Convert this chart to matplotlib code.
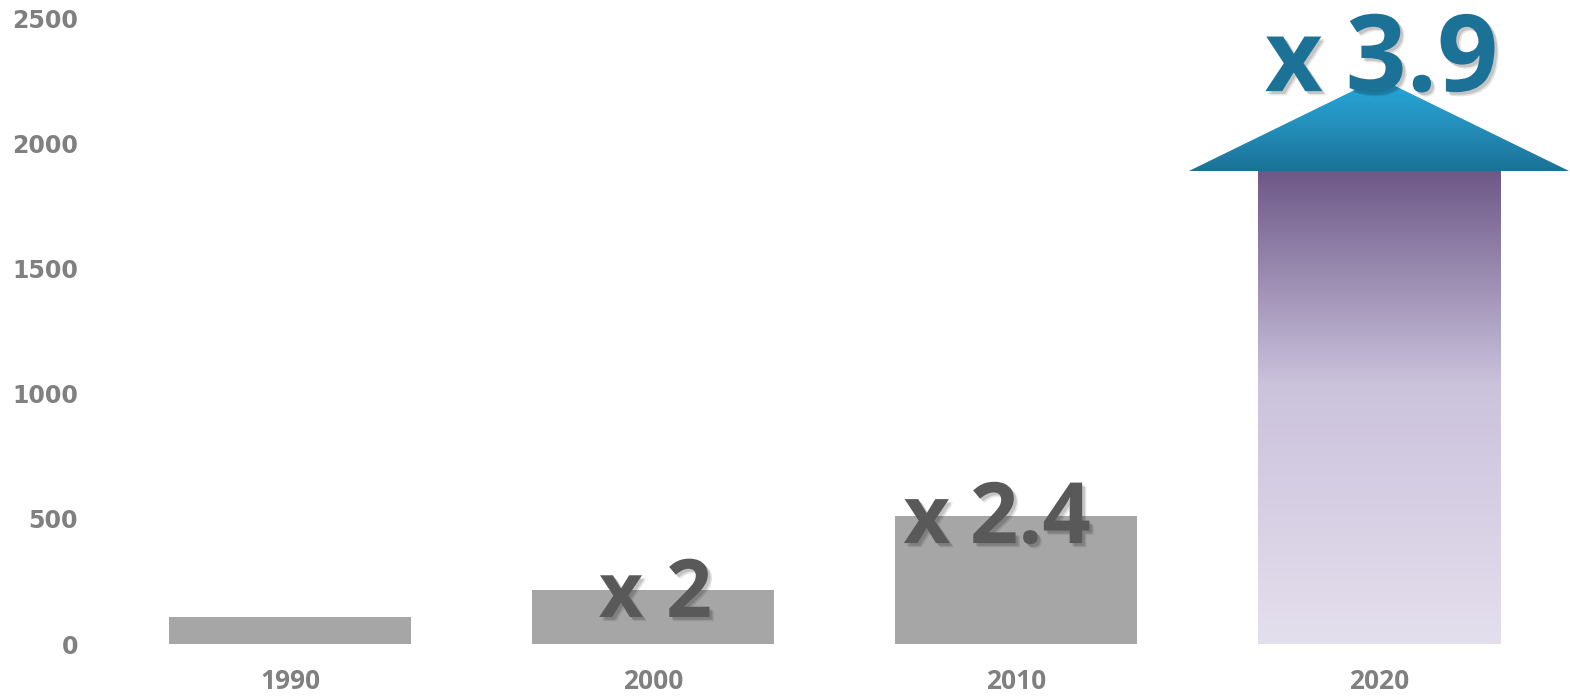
import numpy as np
import matplotlib.pyplot as plt
import matplotlib.patheffects as pe
from matplotlib.colors import LinearSegmentedColormap
from matplotlib.patches import Polygon

years = ['1990', '2000', '2010', '2020']
values = [108, 215, 511, 1888]
ratio_numbers = ['', '2', '2.4', '3.9']
arrow_tip = 2260

gray = '#a6a6a6'
label_gray = '#808080'
dark_gray = '#595959'
teal = '#1b7196'

fig = plt.figure(figsize=(15.7, 6.99), dpi=100)
ax = fig.add_axes([108.5 / 1570, 55 / 699, 1452 / 1570, 626 / 699])

x = np.arange(len(years))
width = 0.667

# gray bars for the first three years
ax.bar(x[:3], values[:3], width=width, color=gray, zorder=2)

# 2020 gradient bar
bar_cmap = LinearSegmentedColormap.from_list(
    'bar', [(0, '#e4dfed'), (0.55, '#cbc2dc'), (0.8, '#9687ad'), (1, '#6e5888')])
grad = np.linspace(0, 1, 256).reshape(-1, 1)
x0, x1 = x[3] - width / 2, x[3] + width / 2
ax.imshow(grad, extent=[x0, x1, 0, values[3]], origin='lower', aspect='auto',
          cmap=bar_cmap, zorder=2, interpolation='bilinear')

# arrow head on top
half = 0.525
tri = Polygon([[x[3] - half, values[3]], [x[3] + half, values[3]], [x[3], arrow_tip]],
              closed=True, facecolor='none', edgecolor='none', transform=ax.transData)
ax.add_patch(tri)
tri_cmap = LinearSegmentedColormap.from_list('tri', ['#1b7196', '#2590bd', '#26a9dc'])
im = ax.imshow(grad, extent=[x[3] - half, x[3] + half, values[3], arrow_tip],
               origin='lower', aspect='auto', cmap=tri_cmap, zorder=3,
               interpolation='bilinear')
im.set_clip_path(tri)
im.set_clip_box(fig.bbox)

# ratio labels: "x" and the number drawn apart to keep the narrow gap
shadow = [pe.SimplePatchShadow(offset=(3, -3), shadow_rgbFace='#000000', alpha=0.10),
          pe.SimplePatchShadow(offset=(2, -2), shadow_rgbFace='#000000', alpha=0.14),
          pe.Normal()]
x_right = [None, 0.9725, 1.818, 2.845]
num_left = [None, 1.036, 1.873, 2.908]
baselines = [None, 108, 403, 2208]
sizes = [None, 58, 61, 77]
x_sizes = [None, 55, 58, 72]
colors = [None, dark_gray, dark_gray, teal]
for i in range(1, 4):
    ax.text(x_right[i], baselines[i], 'x', ha='right', va='baseline', fontsize=x_sizes[i],
            family='Open Sans', fontweight='bold', color=colors[i], zorder=5,
            path_effects=shadow)
    ax.text(num_left[i], baselines[i], ratio_numbers[i], ha='left', va='baseline',
            fontsize=sizes[i], family='Open Sans', fontweight='bold', color=colors[i],
            zorder=5, path_effects=shadow)

ax.set_xlim(-0.5, 3.5)
ax.set_ylim(0, 2500)
ax.set_xticks(x)
ax.set_xticklabels(years, family='Open Sans', fontweight='bold', fontsize=19, color=label_gray)
ax.set_yticks([0, 500, 1000, 1500, 2000, 2500])
ax.set_yticklabels(['0', '500', '1000', '1500', '2000', '2500'],
                   family='DejaVu Sans', fontweight='bold', fontsize=17, color=label_gray)
ax.tick_params(axis='x', length=0, pad=17)
ax.tick_params(axis='y', length=0, pad=22)
for s in ax.spines.values():
    s.set_visible(False)

fig.savefig('out.png', dpi=100)
